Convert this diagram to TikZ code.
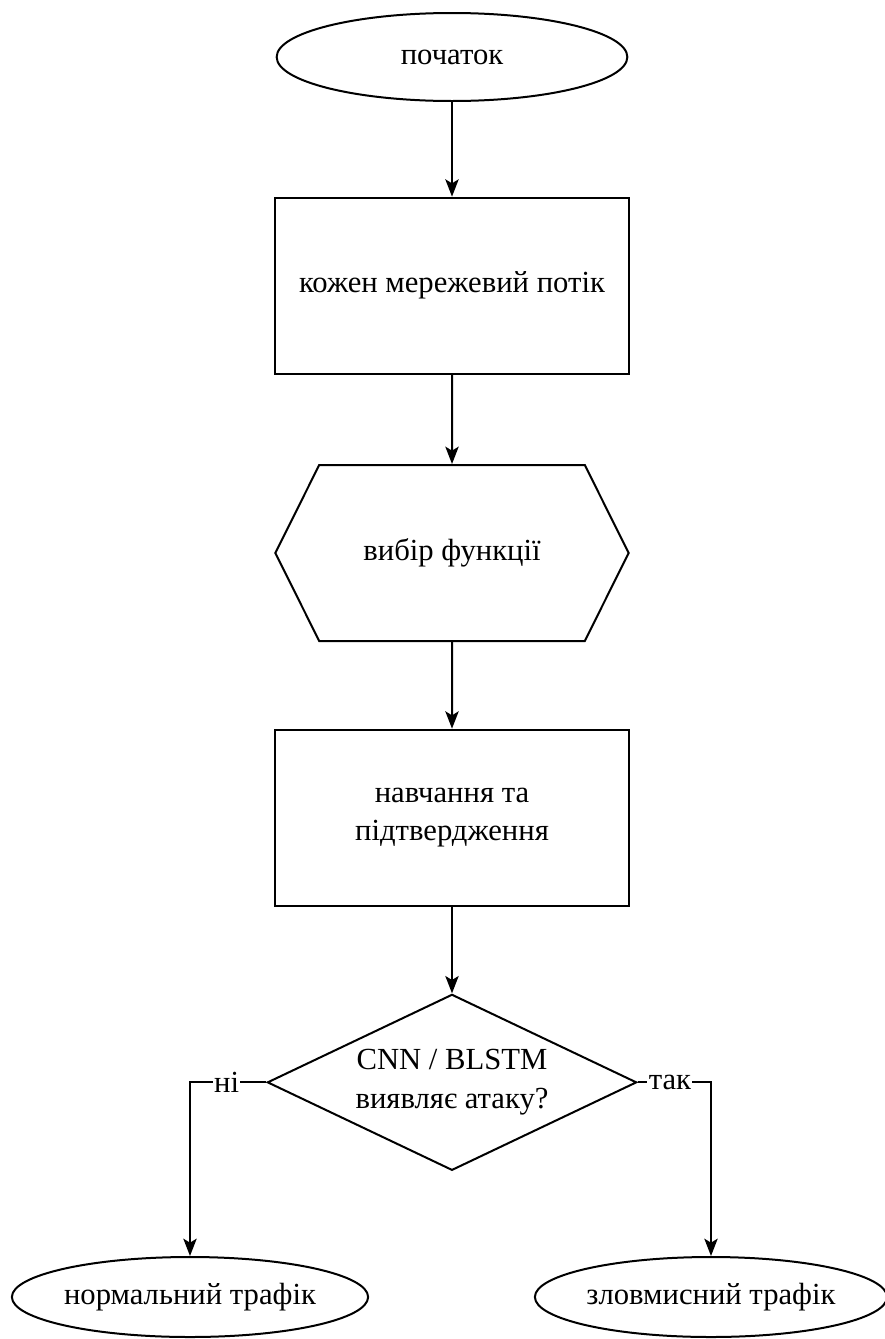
\documentclass[tikz,border=0pt]{standalone}
\usepackage{fontspec}
\setmainfont{Liberation Serif}
\usepackage{tikz}
\usetikzlibrary{positioning, arrows.meta, shapes.geometric, shapes.symbols}

\begin{document}
\begin{tikzpicture}[
    x=0.75pt, y=-0.75pt,
    every node/.style={font=\fontsize{23}{29}\selectfont},
    terminal/.style={ellipse, draw=black, line width=1.5pt, minimum width=263pt, minimum height=66pt, inner sep=0pt},
    process/.style={rectangle, draw=black, line width=1.5pt, minimum width=265pt, minimum height=132pt, align=center},
    prep/.style={signal, signal to=west and east, signal pointer angle=127, draw=black, line width=1.5pt, minimum width=265pt, minimum height=132pt},
    decision/.style={diamond, aspect=2.1, draw=black, line width=1.5pt, minimum width=277pt, minimum height=132pt, align=center, inner sep=0pt},
    arrow/.style={-{Stealth[length=13pt, width=10pt, inset=3pt]}, line width=1.5pt},
    answer/.style={fill=white, inner sep=1pt}
]
\useasboundingbox (0,0) rectangle (885,1339);

% Nodes
\node[terminal] (start) at (452,57) {початок};
\node[process, below=71pt of start] (flow) {кожен мережевий потік};
\node[prep, below=67pt of flow] (feat) {вибір функції};
\node[process, below=65pt of feat] (train) {навчання та\\підтвердження};
\node[decision, below=65pt of train] (detect) {CNN / BLSTM\\виявляє атаку?};

% Outcomes
\node[terminal, minimum width=266pt, minimum height=60pt] (normal) at (190,1297) {нормальний трафік};
\node[terminal, minimum width=260pt, minimum height=60pt] (attack) at (711,1297) {зловмисний трафік};

% Arrows
\draw[arrow] (start) -- (flow);
\draw[arrow] (flow) -- (feat);
\draw[arrow] (feat) -- (train);
\draw[arrow] (train) -- (detect);
\draw[arrow] (detect.west) -| node[answer, pos=0.26] {ні} (normal.north);
\draw[arrow] (detect.east) -| node[answer, pos=0.22] {так} (attack.north);
\end{tikzpicture}
\end{document}
